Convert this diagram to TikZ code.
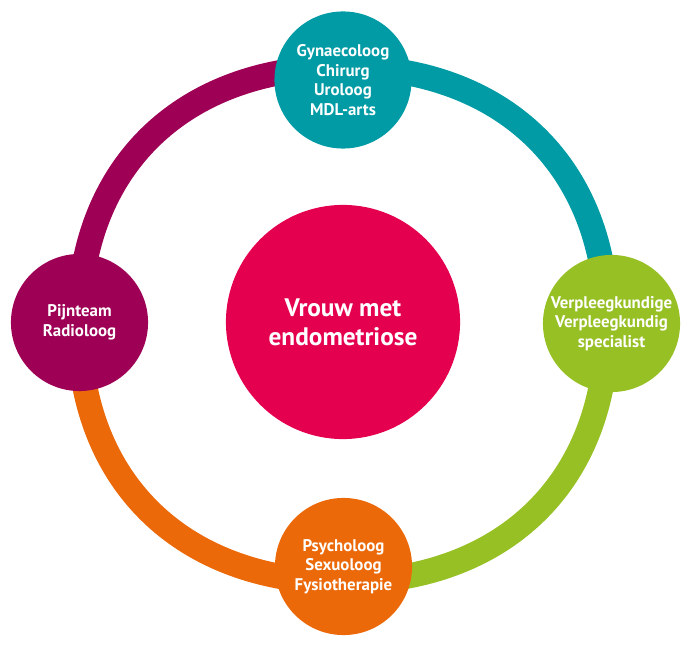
\documentclass[tikz,border=0pt]{standalone}
\usepackage{fontspec}
\setmainfont{PT Sans}
\usepackage{tikz}
\definecolor{ringteal}{HTML}{009BA4}
\definecolor{ringgreen}{HTML}{97C024}
\definecolor{ringorange}{HTML}{EB6909}
\definecolor{ringpurple}{HTML}{9E0055}
\definecolor{corered}{HTML}{E4004F}
\newcommand{\ringwidth}{17.8pt}

\begin{document}
\begin{tikzpicture}[x=.025cm, y=.025cm,
    spec/.style={circle, minimum size=97.5pt, inner sep=0pt, text=white, align=center,
      font=\fontsize{12}{13.9}\selectfont\bfseries},
    core/.style={circle, minimum size=166.5pt, inner sep=0pt, text=white, align=center,
      fill=corered, font=\fontsize{18}{20.6}\selectfont\bfseries},
    ring/.style={line width=\ringwidth, looseness=1.1}]
    \useasboundingbox (0,0) rectangle (690,-648);
    % ring under the circles
        \coordinate (ringT) at (343,-67);
        \coordinate (ringR) at (607,-324.5);
        \coordinate (ringB) at (343,-582);
        \coordinate (ringL) at (79,-324.5);

        \draw[ring, ringteal] (ringT) to[out=0, in=90] (ringR);
        \draw[ring, ringgreen] (ringR) to[out=-90, in=0] (ringB);
        \draw[ring, ringorange] (ringB) to[out=180, in=-90] (ringL);
        \draw[ring, ringpurple] (ringL) to[out=90, in=180] (ringT);
    % circles
        \node (core) at (343,-322) [core] {Vrouw met\\endometriose};
        \node (top) at (343,-80) [spec, fill=ringteal] {Gynaecoloog\\Chirurg\\Uroloog\\MDL-arts};
        \node (right) at (611.5,-323.5) [spec, fill=ringgreen] {Verpleegkundige\\Verpleegkundig\\specialist};
        \node (bottom) at (343.5,-566.5) [spec, fill=ringorange] {Psycholoog\\Sexuoloog\\Fysiotherapie};
        \node (left) at (79.5,-322.5) [spec, fill=ringpurple] {Pijnteam\\Radioloog};
\end{tikzpicture}
\end{document}
